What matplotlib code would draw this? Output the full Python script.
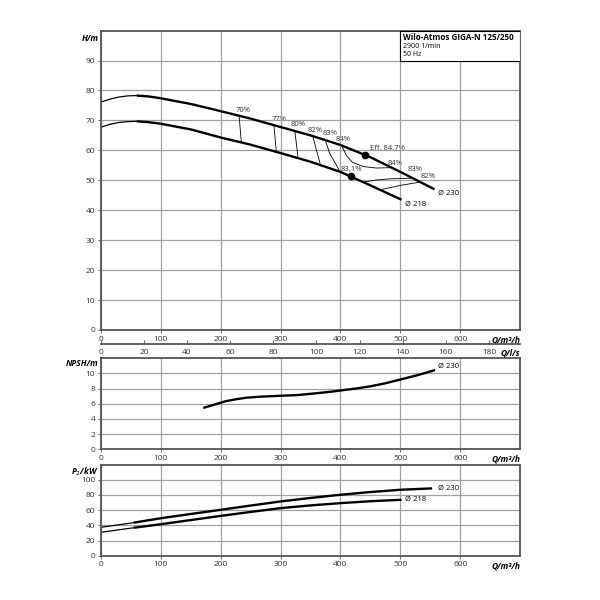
import matplotlib
matplotlib.use("Agg")
import matplotlib.pyplot as plt
from matplotlib.patches import Rectangle

plt.rcParams['font.family'] = ['Open Sans', 'DejaVu Sans']
plt.rcParams['font.size'] = 6

# H curves (Q m3/h, H m)
q_230 = [0, 15, 30, 45, 60, 80, 100, 150, 200, 250, 300, 350, 400, 450, 500, 557]
h_230 = [76.1, 77.1, 77.8, 78.2, 78.3, 78.0, 77.4, 75.5, 73.1, 70.6, 67.8, 65.0, 61.8, 57.7, 52.8, 47.0]
q_218 = [0, 15, 30, 45, 60, 80, 100, 150, 200, 250, 300, 350, 400, 450, 502]
h_218 = [67.7, 68.7, 69.3, 69.6, 69.7, 69.4, 68.9, 67.0, 64.3, 61.9, 59.1, 56.2, 52.8, 48.3, 43.5]

# iso-efficiency lines: (label, [Q...], [H...], label Q, label H)
eff_lines = [
    ("70%", [231, 234.5], [71.2, 62.8], 237, 73.2),
    ("77%", [289, 293], [68.3, 59.5], 297, 70.2),
    ("80%", [324, 329], [66.2, 58.0], 329, 68.6),
    ("82%", [354, 360, 366], [64.6, 60.0, 55.7], 357, 66.7),
    ("83%", [374, 382, 392, 399], [63.8, 59.0, 55.5, 52.9], 382, 65.5),
    ("84%", [402, 410, 420, 438, 460, 482], [61.6, 58.2, 56.0, 54.6, 54.1, 54.2], 405, 63.6),
    ("84%", [], [], 491, 55.7),
    ("83%", [438, 460, 483, 519], [49.4, 50.1, 50.5, 50.7], 525, 53.5),
    ("82%", [466, 500, 533], [46.8, 48.3, 49.4], 547, 51.3),
]
eff_pts_q = [441, 418]
eff_pts_h = [58.5, 51.3]

# NPSH
q_npsh = [173, 190, 209, 226, 243, 270, 299, 329, 355, 380, 400, 425, 450, 475, 500, 530, 556]
npsh = [5.5, 5.9, 6.35, 6.6, 6.8, 6.95, 7.05, 7.15, 7.35, 7.55, 7.75, 8.0, 8.3, 8.7, 9.2, 9.8, 10.4]

# Power P2
q_p230 = [0, 55, 100, 150, 200, 250, 300, 350, 400, 450, 500, 553]
p_230 = [37.4, 43.5, 49.3, 54.9, 60.4, 66.0, 71.4, 76.0, 80.2, 83.8, 86.8, 88.6]
q_p218 = [0, 55, 100, 150, 200, 250, 300, 350, 400, 450, 502]
p_218 = [30.8, 36.8, 41.4, 46.9, 52.4, 57.6, 62.6, 66.2, 69.2, 71.7, 73.6]

grid_c = '#a0a0a0'
spine_c = '#555555'
lab_kw = dict(fontsize=6, fontweight='bold', style='italic')


def style(ax, ymax, yticks):
    ax.set_xlim(0, 700)
    ax.set_ylim(0, ymax)
    ax.set_xticks(range(0, 700, 100))
    ax.set_yticks(yticks)
    ax.grid(True, color=grid_c, lw=0.9)
    ax.tick_params(length=2, width=0.6, color=spine_c, pad=2, labelsize=6, labelcolor='#333333')
    for s in ax.spines.values():
        s.set_color(spine_c)
        s.set_linewidth(1.3)
    ax.annotate('Q/m³/h', xy=(1.0, 0), xycoords='axes fraction', xytext=(0, -4),
                textcoords='offset points', ha='right', va='top', **lab_kw)


def split_plot(ax, q, v, cut=55):
    n = len([x for x in q if x <= cut])
    ax.plot(q[:n], v[:n], color='black', lw=0.9, solid_capstyle='round')
    ax.plot(q[n - 1:], v[n - 1:], color='black', lw=1.7, solid_capstyle='butt')


fig = plt.figure(figsize=(6, 6), dpi=100)

# main H chart
ax1 = fig.add_axes([0.168, 0.45, 0.699, 0.499])
style(ax1, 100, range(0, 100, 10))
split_plot(ax1, q_230, h_230, cut=60)
split_plot(ax1, q_218, h_218, cut=60)
for lab, qs, hs, lq, lh in eff_lines:
    if qs:
        ax1.plot(qs, hs, color='black', lw=0.6)
    ax1.text(lq, lh, lab, ha='center', va='center', fontsize=5.5, color='#333333', zorder=1.5,
             bbox=dict(facecolor='white', edgecolor='none', pad=0.3))
ax1.plot(eff_pts_q, eff_pts_h, 'o', color='black', ms=4.5)
ax1.text(449, 60.5, 'Eff. 84,7%', ha='left', va='center', fontsize=5.5, color='#333333', zorder=1.5,
         bbox=dict(facecolor='white', edgecolor='none', pad=0.3))
ax1.text(419, 53.5, '83,1%', ha='center', va='center', fontsize=5.5, color='#333333', zorder=1.5,
         bbox=dict(facecolor='white', edgecolor='none', pad=0.3))
ax1.text(562, 45.7, 'Ø 230', ha='left', va='center', fontsize=5.5)
ax1.text(508, 41.8, 'Ø 218', ha='left', va='center', fontsize=5.5)
ax1.add_patch(Rectangle((500, 90), 200, 10, facecolor='white', edgecolor='black', lw=0.8, zorder=3))
ax1.text(505, 97.8, 'Wilo-Atmos GIGA-N 125/250', fontsize=5.8, fontweight='bold', va='center', zorder=4)
ax1.text(505, 94.8, '2900 1/min', fontsize=5, va='center', zorder=4)
ax1.text(505, 92.0, '50 Hz', fontsize=5, va='center', zorder=4)
ax1.text(-0.005, 0.99, 'H/m', transform=ax1.transAxes, ha='right', va='top', **lab_kw)

# l/s scale
axq = fig.add_axes([0.168, 0.426, 0.699, 0.0001])
axq.set_xlim(0, 700 / 3.6)
axq.set_xticks(range(0, 190, 20))
axq.set_yticks([])
for k in ['left', 'right', 'top']:
    axq.spines[k].set_visible(False)
axq.spines['bottom'].set_color(spine_c)
axq.spines['bottom'].set_linewidth(1.3)
axq.tick_params(axis='x', direction='in', length=3, width=0.6, color=spine_c, pad=3,
                labelsize=6, labelcolor='#333333')
axq.annotate('Q/l/s', xy=(1.0, 0), xycoords='axes fraction', xytext=(0, -3),
             textcoords='offset points', ha='right', va='top', **lab_kw)
axq.patch.set_visible(False)

# NPSH chart
ax2 = fig.add_axes([0.168, 0.2512, 0.699, 0.1517])
style(ax2, 12, range(0, 12, 2))
ax2.plot(q_npsh, npsh, color='black', lw=1.7)
ax2.text(562, 10.9, 'Ø 230', ha='left', va='center', fontsize=5.5)
ax2.text(-0.005, 0.99, 'NPSH/m', transform=ax2.transAxes, ha='right', va='top', **lab_kw)

# power chart
ax3 = fig.add_axes([0.168, 0.0738, 0.699, 0.152])
style(ax3, 120, range(0, 120, 20))
split_plot(ax3, q_p230, p_230)
split_plot(ax3, q_p218, p_218)
ax3.text(562, 89, 'Ø 230', ha='left', va='center', fontsize=5.5)
ax3.text(508, 73.6, 'Ø 218', ha='left', va='center', fontsize=5.5)
ax3.text(-0.005, 0.99, 'P$_2$/kW', transform=ax3.transAxes, ha='right', va='top', **lab_kw)

fig.savefig('out.png', dpi=100)
